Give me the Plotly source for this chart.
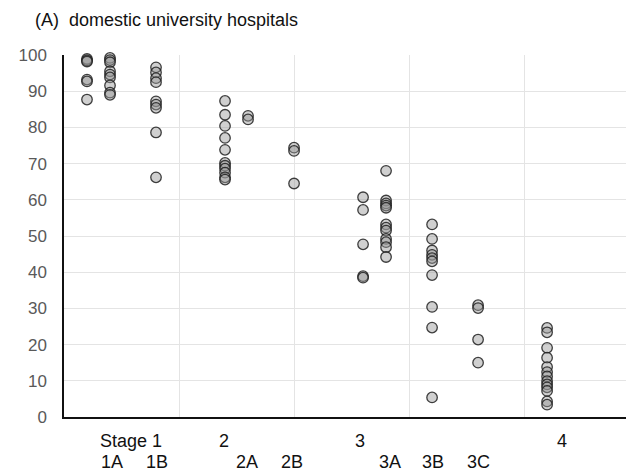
import plotly.graph_objects as go

# ---- data (percent values) ----
categories = ["Stage 1", "1A", "1B", "2", "2A", "2B", "3", "3A", "3B", "3C", "4"]
stage_1 = [98.9, 98.5, 98.2, 93.2, 92.7, 87.7]
stage_1a = [99.2, 98.6, 98.0, 95.5, 94.6, 93.8, 91.6, 89.6, 89.0]
stage_1b = [96.6, 95.2, 93.6, 92.5, 87.2, 86.3, 85.4, 78.6, 66.2]
stage_2 = [87.3, 83.5, 80.4, 77.1, 73.8, 70.2, 69.4, 68.6, 67.5, 66.2, 65.6]
stage_2a = [83.2, 82.2]
stage_2b = [74.4, 73.5, 64.5]
stage_3 = [60.7, 57.2, 47.7, 38.9, 38.5]
stage_3a = [68.0, 59.8, 59.0, 58.4, 57.8, 53.2, 52.3, 51.5, 49.2, 48.3, 46.9, 44.2]
stage_3b = [53.2, 49.2, 46.0, 44.8, 43.9, 43.0, 39.2, 30.4, 24.7, 5.4]
stage_3c = [30.9, 30.1, 21.4, 15.0]
stage_4 = [24.6, 23.4, 19.1, 16.4, 13.8, 12.4, 11.2, 9.9, 9.0, 8.2, 7.2, 4.3, 3.4]
y_ticks = [0, 10, 20, 30, 40, 50, 60, 70, 80, 90, 100]
title_text = "(A)  domestic university hospitals"
top_labels = ["Stage 1", "2", "3", "4"]
bottom_labels = ["1A", "1B", "2A", "2B", "3A", "3B", "3C"]

series = [stage_1, stage_1a, stage_1b, stage_2, stage_2a, stage_2b,
          stage_3, stage_3a, stage_3b, stage_3c, stage_4]

# layout: horizontal slot of each column on the x axis
slot = {"Stage 1": 1, "1A": 2, "1B": 4, "2": 7, "2A": 8, "2B": 10,
        "3": 13, "3A": 14, "3B": 16, "3C": 18, "4": 21}
top_label_x = {"Stage 1": 2.9, "2": 6.95, "3": 12.85, "4": 21.65}
bottom_label_x = {"1A": 2.1, "1B": 4.05, "2A": 7.95, "2B": 9.9,
                  "3A": 14.15, "3B": 16.05, "3C": 18.0}

xs, ys = [], []
for cat, vals in zip(categories, series):
    xs += [slot[cat]] * len(vals)
    ys += vals

fig = go.Figure()
fig.add_trace(go.Scatter(
    x=xs, y=ys, mode="markers",
    marker=dict(size=10.5, color="rgba(150,150,150,0.45)",
                line=dict(color="rgba(30,30,30,0.85)", width=1.3)),
    cliponaxis=False, showlegend=False, hoverinfo="y"))

font = "Liberation Sans, Arial, sans-serif"
annotations = []
for lab in top_labels:
    annotations.append(dict(x=top_label_x[lab], y=-0.065, xref="x", yref="paper",
                            text=lab, showarrow=False, xanchor="center", yanchor="middle",
                            font=dict(size=18, color="#111", family=font)))
for lab in bottom_labels:
    annotations.append(dict(x=bottom_label_x[lab], y=-0.123, xref="x", yref="paper",
                            text=lab, showarrow=False, xanchor="center", yanchor="middle",
                            font=dict(size=18, color="#111", family=font)))

W, H = 630, 474
fig.update_layout(
    width=W, height=H,
    margin=dict(l=64, r=4, t=54.5, b=56.5, autoexpand=False),
    paper_bgcolor="white", plot_bgcolor="white",
    font=dict(family=font),
    title=dict(text=title_text, x=35 / W, xanchor="left", xref="container",
               y=1 - 20 / H, yref="container", yanchor="middle",
               font=dict(size=18, color="#111", family=font)),
    xaxis=dict(range=[0, 24.43], tickvals=[5, 10, 15, 20], showticklabels=False,
               showgrid=True, gridcolor="#e4e4e4", gridwidth=1, zeroline=False,
               showline=True, linecolor="#111", linewidth=1.5, ticks=""),
    yaxis=dict(range=[0, 100], tickvals=y_ticks, showgrid=True, gridcolor="#e4e4e4",
               gridwidth=1, zeroline=False, showline=True, linecolor="#111",
               linewidth=1.5, ticks="", ticklabelstandoff=12,
               tickfont=dict(size=17, color="#595959", family=font)),
    annotations=annotations,
)

# remove the page's default 8px body margin so the figure fills the window
fig.write_html("out.html",
               config={"displayModeBar": False},
               post_script="document.body.style.margin='0px';"
                           "document.body.style.overflow='hidden';")
